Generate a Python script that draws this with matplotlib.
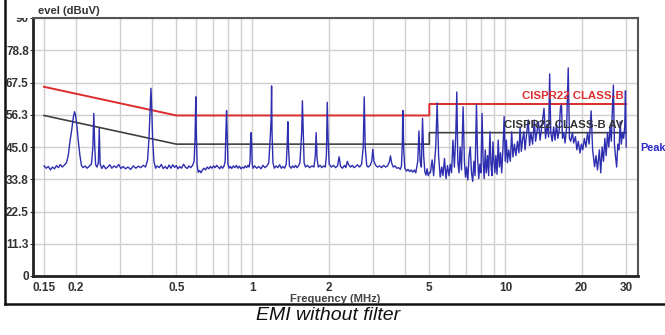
import numpy as np
import matplotlib
matplotlib.use("Agg")
import matplotlib.pyplot as plt
from matplotlib.lines import Line2D
from matplotlib.patches import Rectangle
from matplotlib.ticker import NullFormatter

plt.rcParams['font.family'] = ['Liberation Sans', 'DejaVu Sans']

# limit lines (CISPR22 class B, quasi-peak and average)
limit_mhz = [0.15, 0.5, 5, 5, 30]
limit_qp = [66, 56, 56, 60, 60]
limit_av = [56, 46, 46, 50, 50]

# peak trace, 0.15 - 1 MHz
band1_mhz = [0.150, 0.153, 0.156, 0.159, 0.162, 0.165, 0.168, 0.171, 0.174, 0.177,
             0.180, 0.184, 0.187, 0.190, 0.193, 0.196, 0.198, 0.200, 0.202, 0.205,
             0.208, 0.211, 0.214, 0.218, 0.222, 0.226, 0.229, 0.231, 0.234, 0.236,
             0.238, 0.240, 0.243, 0.246, 0.248, 0.250, 0.254, 0.258, 0.263, 0.268,
             0.273, 0.278, 0.284, 0.290, 0.296, 0.302, 0.308, 0.315, 0.322, 0.330,
             0.338, 0.346, 0.354, 0.362, 0.370, 0.378, 0.385, 0.390, 0.394, 0.397,
             0.400, 0.403, 0.408, 0.414, 0.420, 0.428, 0.436, 0.444, 0.452, 0.460,
             0.468, 0.476, 0.484, 0.492, 0.500, 0.508, 0.516, 0.525, 0.534, 0.543,
             0.552, 0.561, 0.570, 0.580, 0.588, 0.593, 0.597, 0.600, 0.604, 0.610,
             0.618, 0.626, 0.634, 0.643, 0.652, 0.662, 0.672, 0.682, 0.692, 0.702,
             0.712, 0.722, 0.732, 0.742, 0.752, 0.762, 0.772, 0.780, 0.785, 0.790,
             0.795, 0.800, 0.808, 0.818, 0.828, 0.840, 0.852, 0.864, 0.876, 0.888,
             0.900, 0.912, 0.924, 0.936, 0.948, 0.960, 0.970, 0.978, 0.983, 0.988,
             0.993, 0.998]
band1_dbuv = [38.4, 37.6, 38.2, 37.0, 38.0, 37.4, 38.5, 37.8, 38.9, 38.0,
              38.6, 39.5, 42.0, 47.0, 51.0, 55.5, 57.3, 56.0, 53.0, 47.0,
              42.0, 38.5, 37.8, 38.4, 37.6, 38.2, 38.8, 39.0, 45.0, 56.7,
              45.0, 38.8, 38.0, 39.5, 51.5, 39.0, 37.5, 38.6, 37.4, 38.0,
              38.8, 37.6, 38.4, 37.8, 38.9, 37.5, 38.2, 37.4, 38.0, 37.2,
              38.4, 37.6, 38.3, 37.8, 38.6, 38.0, 40.5, 48.0, 57.9, 65.5,
              58.0, 48.0, 40.0, 37.6, 38.4, 37.8, 38.9, 37.5, 38.2, 37.4,
              38.7, 37.6, 38.8, 37.9, 38.5, 37.4, 38.2, 37.6, 39.0, 38.0,
              37.5, 38.4, 37.8, 38.6, 40.0, 48.0, 62.5, 50.0, 39.0, 36.2,
              36.8, 36.0, 37.0, 37.6, 37.0, 38.0, 37.4, 38.2, 37.6, 38.4,
              37.8, 38.6, 38.0, 37.4, 38.3, 37.6, 38.4, 40.0, 50.0, 57.7,
              48.0, 39.0, 37.6, 38.2, 37.5, 38.4, 37.8, 38.6, 37.6, 38.3,
              37.4, 38.0, 37.6, 38.4, 37.8, 38.6, 38.0, 40.0, 47.0, 50.0,
              46.0, 39.0]

# 1 - 5 MHz
band2_mhz = [1.005, 1.02, 1.04, 1.06, 1.08, 1.10, 1.12, 1.14, 1.16, 1.175,
             1.185, 1.19, 1.195, 1.205, 1.22, 1.24, 1.26, 1.28, 1.30, 1.32,
             1.34, 1.36, 1.372, 1.38, 1.388, 1.40, 1.42, 1.44, 1.46, 1.48,
             1.50, 1.52, 1.54, 1.565, 1.575, 1.585, 1.60, 1.62, 1.65, 1.68,
             1.72, 1.75, 1.772, 1.785, 1.80, 1.82, 1.85, 1.88, 1.91, 1.94,
             1.96, 1.975, 1.99, 2.01, 2.05, 2.09, 2.13, 2.17, 2.20, 2.23,
             2.27, 2.31, 2.34, 2.37, 2.40, 2.44, 2.48, 2.52, 2.56, 2.60,
             2.65, 2.70, 2.74, 2.765, 2.79, 2.83, 2.87, 2.92, 2.96, 2.99,
             3.02, 3.07, 3.12, 3.18, 3.24, 3.30, 3.36, 3.42, 3.48, 3.51,
             3.55, 3.60, 3.66, 3.72, 3.78, 3.84, 3.88, 3.91, 3.93, 3.96,
             4.00, 4.06, 4.12, 4.18, 4.24, 4.30, 4.36, 4.42, 4.50, 4.55,
             4.60, 4.65, 4.70, 4.75, 4.80, 4.85, 4.90, 4.95, 5.00]
band2_dbuv = [37.6, 38.4, 37.6, 38.2, 37.4, 38.6, 37.8, 38.4, 39.5, 48.0,
              54.8, 66.3, 50.0, 39.5, 37.6, 38.4, 37.8, 38.8, 37.6, 38.2,
              37.6, 39.0, 46.0, 53.8, 45.0, 38.4, 37.6, 38.4, 37.8, 38.6,
              37.8, 38.4, 39.5, 50.0, 61.1, 52.0, 39.5, 38.0, 38.6, 37.8,
              38.4, 38.0, 42.0, 50.0, 41.0, 38.0, 38.6, 37.8, 38.4, 38.0,
              42.0, 60.6, 48.0, 39.0, 38.0, 38.6, 37.8, 38.4, 41.6, 38.2,
              37.6, 38.6, 37.8, 40.0, 38.8, 38.0, 38.6, 37.8, 38.2, 38.8,
              38.0, 39.0, 45.0, 62.5, 45.0, 38.4, 38.0, 38.6, 40.0, 44.2,
              40.0, 38.6, 38.0, 38.4, 37.8, 38.6, 38.0, 38.4, 40.0, 41.9,
              39.4, 38.0, 38.4, 37.6, 37.8, 37.2, 38.4, 46.0, 57.7, 44.0,
              37.6, 36.6, 37.2, 36.4, 37.0, 36.2, 37.0, 36.0, 40.0, 50.6,
              40.0, 38.0, 55.0, 42.0, 36.4, 35.2, 37.4, 35.0, 36.0]

# 5 - 30 MHz
band3_mhz = [5.05, 5.13, 5.20, 5.30, 5.37, 5.44, 5.52, 5.60, 5.66, 5.74,
             5.82, 5.90, 5.98, 6.05, 6.12, 6.20, 6.28, 6.36, 6.42, 6.48,
             6.55, 6.62, 6.70, 6.80, 6.88, 6.95, 7.02, 7.10, 7.18, 7.26,
             7.34, 7.42, 7.50, 7.58, 7.68, 7.76, 7.84, 7.92, 8.00, 8.08,
             8.16, 8.24, 8.32, 8.40, 8.50, 8.58, 8.68, 8.76, 8.84, 8.92,
             9.00, 9.08, 9.16, 9.26, 9.36, 9.46, 9.56, 9.66, 9.78, 9.88,
             9.98, 10.08, 10.18, 10.30, 10.45, 10.58, 10.70, 10.85, 11.00, 11.15,
             11.30, 11.42, 11.55, 11.70, 11.82, 11.95, 12.10, 12.30, 12.45, 12.60,
             12.80, 13.00, 13.15, 13.35, 13.50, 13.70, 13.90, 14.20, 14.40, 14.60,
             14.80, 14.95, 15.10, 15.30, 15.50, 15.70, 15.90, 16.10, 16.30, 16.50,
             16.65, 16.80, 17.00, 17.20, 17.45, 17.70, 17.90, 18.10, 18.40, 18.60,
             18.90, 19.15, 19.40, 19.70, 19.95, 20.20, 20.50, 20.80, 21.10, 21.40,
             21.80, 22.10, 22.50, 22.80, 23.10, 23.50, 23.80, 24.10, 24.40, 24.70,
             25.00, 25.30, 25.60, 25.90, 26.20, 26.45, 26.70, 26.95, 27.20, 27.50,
             27.80, 28.10, 28.40, 28.70, 29.00, 29.30, 29.60, 29.80, 30.00]
band3_dbuv = [36.0, 40.5, 35.0, 45.0, 60.4, 42.0, 34.5, 38.0, 35.0, 41.0,
              34.0, 38.5, 35.0, 39.0, 36.0, 47.4, 38.0, 49.0, 64.2, 40.0,
              36.0, 45.0, 37.0, 59.0, 40.0, 34.5, 38.0, 33.5, 42.0, 45.0,
              36.0, 33.0, 40.0, 35.0, 59.8, 41.0, 34.0, 39.0, 36.0, 56.7,
              40.0, 34.0, 44.0, 36.0, 42.0, 35.0, 50.3, 39.0, 35.0, 46.8,
              40.0, 36.0, 42.0, 35.5, 47.4, 38.0, 43.0, 36.0, 45.0, 55.6,
              40.0, 47.4, 39.5, 44.0, 40.0, 50.3, 41.5, 46.0, 42.0, 47.0,
              43.0, 52.0, 43.5, 48.0, 50.3, 44.0, 49.0, 54.4, 45.5, 50.0,
              46.0, 54.4, 47.0, 51.0, 53.8, 47.4, 52.0, 58.5, 48.0, 53.0,
              48.5, 70.5, 50.0, 47.0, 52.0, 47.4, 53.0, 48.0, 51.0, 59.0,
              59.6, 48.0, 50.0, 46.4, 52.0, 72.6, 48.0, 47.0, 50.0, 46.4,
              48.6, 44.0, 47.0, 42.9, 46.0, 44.0, 48.0, 45.0, 50.0, 46.0,
              57.6, 44.0, 38.1, 42.0, 37.0, 44.0, 36.0, 45.0, 40.0, 48.0,
              42.0, 50.0, 45.0, 52.0, 47.0, 58.0, 66.6, 46.0, 42.0, 38.0,
              46.0, 44.0, 53.8, 46.0, 50.0, 48.0, 52.0, 64.6, 45.0]

x_tick_vals = [0.15, 0.2, 0.5, 1, 2, 5, 10, 20, 30]
x_tick_labels = ['0.15', '0.2', '0.5', '1', '2', '5', '10', '20', '30']
y_tick_labels = ['0', '11.3', '22.5', '33.8', '45.0', '56.3', '67.5', '78.8', '90']

W, H = 665, 335


def fx(px):
    return px / W


def fy(py):
    return 1 - py / H


fig = plt.figure(figsize=(W / 100, H / 100), dpi=100)
ax = fig.add_axes([fx(33), fy(276), fx(638 - 33), (276 - 18) / H])

freq = band1_mhz + band2_mhz + band3_mhz
level = band1_dbuv + band2_dbuv + band3_dbuv

ax.plot(limit_mhz, limit_qp, color='#dd2c2c', lw=1.4, zorder=3)
ax.plot(limit_mhz, limit_av, color='#404040', lw=1.2, zorder=3)
ax.plot(freq, level, color='#2e2eb0', lw=1.0, zorder=4)

ax.set_xscale('log')
ax.set_xlim(0.1357, 33.4)
ax.set_ylim(0, 90)

# grid: every 1-9 step of each decade plus 0.15
minor_grid = [0.15] + [m * d for d in (0.1, 1, 10) for m in range(1, 10) if 0.15 < m * d <= 30]
ax.set_xticks(x_tick_vals)
ax.set_xticklabels(x_tick_labels)
ax.set_xticks(minor_grid, minor=True)
ax.xaxis.set_minor_formatter(NullFormatter())
ax.set_yticks(np.linspace(0, 90, 9))
ax.set_yticklabels(y_tick_labels)
ax.grid(which='both', color='#cfcfcf', lw=1.0)
ax.set_axisbelow(True)

for lab in ax.get_xticklabels() + ax.get_yticklabels():
    lab.set_fontweight('bold')
    lab.set_fontsize(8.5)
    lab.set_color('#333333')
ax.tick_params(axis='x', which='both', length=0, pad=4)
ax.tick_params(axis='y', length=2, pad=1, color='#333333')

for side in ('left', 'bottom'):
    ax.spines[side].set_color('#222222')
    ax.spines[side].set_linewidth(2)
for side in ('top', 'right'):
    ax.spines[side].set_color('#555555')
    ax.spines[side].set_linewidth(1.5)

# labels on the limit lines
ax.text(29.2, 60.9, 'CISPR22 CLASS-B', color='#dd2c2c', fontsize=8.2,
        fontweight='bold', ha='right', va='bottom', zorder=5)
ax.text(29.2, 50.9, 'CISPR22 CLASS-B AV', color='#333333', fontsize=8.2,
        fontweight='bold', ha='right', va='bottom', zorder=5)
fig.text(fx(640), fy(148), 'Peak', color='#2a2ad0', fontsize=7.8,
         fontweight='bold', ha='left', va='center')

# axis titles
fig.text(fx(38), fy(11), 'evel (dBuV)', fontsize=8.1, fontweight='bold',
         color='#333333', ha='left', va='center')
fig.text(fx(335), fy(298.5), 'Frequency (MHz)', fontsize=8.1, fontweight='bold',
         color='#444444', ha='center', va='center')

# white strip that hides the top of the "90" label, as in the original
fig.patches.append(Rectangle((fx(8), fy(17.5)), fx(24), 17.5 / H, transform=fig.transFigure,
                             facecolor='white', edgecolor='none', zorder=5))

# outer frame: left edge and bottom rule above the caption
fig.lines.append(Line2D([fx(5), fx(5)], [fy(304), 1], transform=fig.transFigure,
                        color='#111111', lw=1.8))
fig.lines.append(Line2D([fx(5), 1], [fy(304), fy(304)], transform=fig.transFigure,
                        color='#111111', lw=1.8))

fig.text(fx(328), fy(315), 'EMI without filter', fontsize=14, style='italic',
         color='#111111', ha='center', va='center')

fig.savefig('out.png', dpi=100)
